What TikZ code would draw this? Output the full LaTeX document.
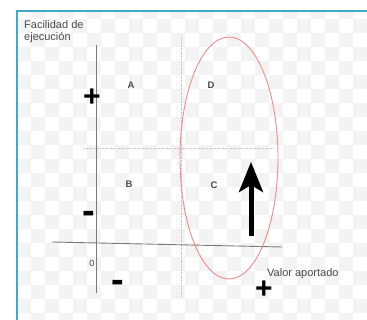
\documentclass[tikz,border=0pt]{standalone}
\usepackage{fontspec}
\setmainfont{Liberation Sans}
\usetikzlibrary{arrows.meta,shapes.geometric}
\definecolor{frameblue}{HTML}{3FAACB}
\definecolor{checker}{HTML}{F3F3F3}
\definecolor{axisgray}{HTML}{7A7A7A}
\definecolor{dotgray}{HTML}{C4C4C4}
\definecolor{ovalred}{HTML}{F08C8C}
\definecolor{txtgray}{HTML}{4A4A4A}
\begin{document}
\begin{tikzpicture}[x=1pt,y=-1pt,
  axis/.style={draw=axisgray,line width=0.9pt},
  guide/.style={draw=dotgray,line width=0.8pt,dash pattern=on 0.8pt off 0.8pt},
  quad/.style={text=txtgray,font=\fontsize{9.5}{10}\selectfont\bfseries,inner sep=0pt},
  lbl/.style={text=txtgray,font=\fontsize{11}{12}\selectfont,inner sep=0pt},
  sign/.style={text=black,font=\fontsize{30}{30}\selectfont\bfseries,inner sep=0pt},
  msign/.style={text=black,font=\fontsize{38}{38}\selectfont\bfseries,inner sep=0pt},
  oval/.style={draw=ovalred,line width=0.9pt}]
\useasboundingbox (0,0) rectangle (367,320);
\fill[white] (0,0) rectangle (367,320);
% checkerboard background
\begin{scope}
\clip (17,11) rectangle (367,320);
\foreach \i in {0,...,25}{
  \foreach \j in {0,...,23}{
    \pgfmathtruncatemacro\p{mod(\i+\j,2)}
    \ifnum\p=1
      \fill[checker] (17+14*\i,5+14*\j) rectangle ++(14,14);
    \fi
  }
}
\end{scope}
% frame
\draw[frameblue,line width=2pt] (17,330) -- (17,11) -- (380,11);
% guides
\coordinate (vt) at (181,35);
\coordinate (vb) at (181,296);
\coordinate (hl) at (84,148);
\coordinate (hr) at (273,148);
\draw[guide] (vt) -- (vb);
\draw[guide] (hl) -- (hr);
% axes
\coordinate (yt) at (96,45);
\coordinate (yb) at (96,293);
\coordinate (xl) at (52,242);
\coordinate (xr) at (282,247);
\draw[axis] (yt) -- (yb);
\draw[axis] (xl) -- (xr);
% oval
\node[oval,ellipse,minimum width=98pt,minimum height=242pt,inner sep=0pt] (ov) at (229,158) {};
% arrow
\coordinate (ab) at (251,236);
\coordinate (at) at (251,162);
\draw[line width=5pt,-{Stealth[length=30pt,width=24pt,inset=7pt]}] (ab) -- (at);
% texts
\node[lbl,anchor=base west,align=left] (title) at (24,41) {Facilidad de\\ejecución};
\node[lbl,anchor=base west] (xlab) at (267,277) {Valor aportado};
\node[quad] (A) at (131,85) {A};
\node[quad] (D) at (211,85) {D};
\node[quad] (B) at (129,184) {B};
\node[quad] (C) at (214,185) {C};
\node[quad,font=\fontsize{9}{10}\selectfont] (zero) at (92,263) {0};
\node[sign] (yplus) at (92,98) {+};
\node[msign] (yminus) at (89,217) {-};
\node[msign] (xminus) at (118,286) {-};
\node[sign] (xplus) at (264,290) {+};
\end{tikzpicture}
\end{document}
